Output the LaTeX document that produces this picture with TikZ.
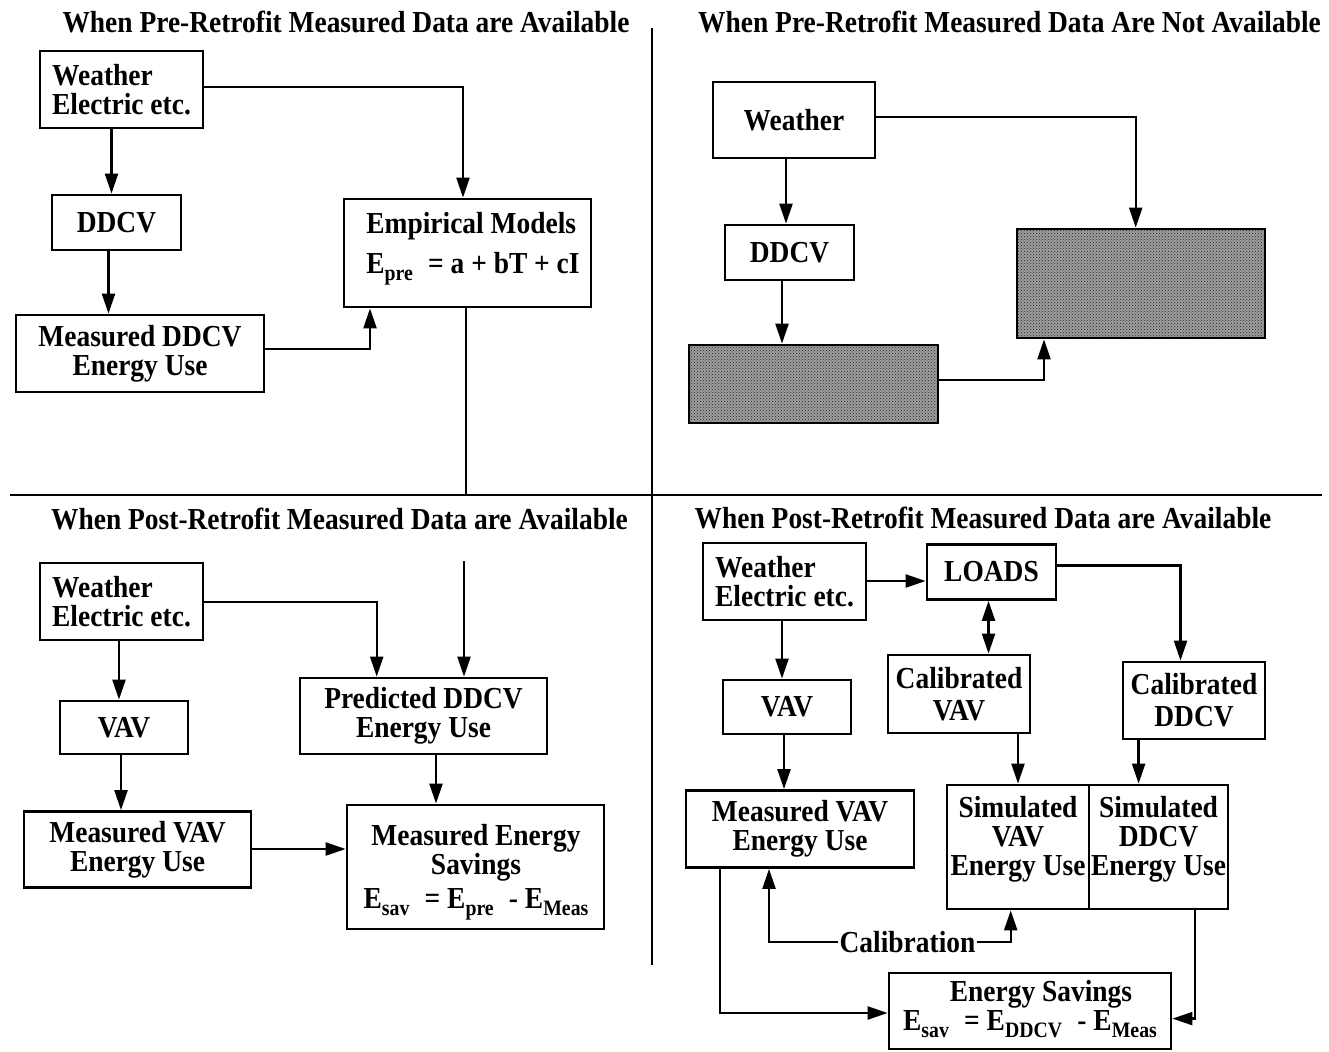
\documentclass[tikz,border=0pt]{standalone}
\usepackage{fontspec}
\setmainfont{Liberation Serif}[FakeStretch=0.9]
\usepackage{tikz}
\usetikzlibrary{arrows.meta,patterns}
\newcommand{\lowsub}[1]{\raisebox{-7pt}{\fontsize{22}{22}\selectfont #1}}

\begin{document}
\begin{tikzpicture}[x=1pt,y=-1pt,
	every node/.style={font=\fontsize{30.5}{29}\selectfont\bfseries},
	blk/.style={draw,line width=2.8pt,align=center,inner sep=0pt},
	greybox/.style={blk,preaction={fill=black!38},pattern=crosshatch dots,pattern color=black!85},
	arr/.style={line width=2.3pt,-{Triangle[length=20pt,width=13pt]}},
	dbl/.style={line width=2.3pt,{Triangle[length=20pt,width=13pt]}-{Triangle[length=20pt,width=13pt]}},
	wire/.style={line width=2.3pt},
	divider/.style={line width=2.4pt}]
	\useasboundingbox (0,0) rectangle (1329,1051);
	
	\draw[divider] (10,495) -- (1322,495);
	\draw[divider] (652,28) -- (652,965);
	
	% pre-retrofit, measured
	\node (t1) at (346,22) {When Pre-Retrofit Measured Data are Available};
	\node[blk,align=left,minimum width=163,minimum height=77] (w1) at (121.5,89.5) {Weather\\Electric etc.};
	\node[blk,minimum width=129,minimum height=55] (ddcv1) at (116.5,222.5) {DDCV};
	\node[blk,minimum width=248,minimum height=77] (mddcv1) at (140,353.5) {Measured DDCV\\Energy Use};
	\node[blk,minimum width=247,minimum height=108] (emp) at (467.5,253) {};
	\node[align=left,inner sep=0pt] (emptxt) at (473,248.5) {Empirical Models\\[11pt]E\lowsub{pre}\enspace= a + bT + cI};
	\draw[arr] (111.5,0 |- w1.south) -- (111.5,0 |- ddcv1.north);
	\draw[arr] (108.5,0 |- ddcv1.south) -- (108.5,0 |- mddcv1.north);
	\draw[arr] (w1.east |- 0,87) -| (463,0 |- emp.north);
	\draw[arr] (mddcv1.east |- 0,349) -| (370,0 |- emp.south);
	\draw[wire] (466,0 |- emp.south) -- (466,495);
	
	% pre-retrofit, not measured
	\node (t2) at (1009.5,22) {When Pre-Retrofit Measured Data Are Not Available};
	\node[blk,minimum width=162,minimum height=76] (w2) at (794,120) {Weather};
	\node[blk,minimum width=129,minimum height=55] (ddcv2) at (789.5,252.5) {DDCV};
	\node[greybox,minimum width=249,minimum height=78] (sh1) at (813.5,384) {};
	\node[greybox,minimum width=248,minimum height=109] (sh2) at (1141,283.5) {};
	\draw[arr] (786,0 |- w2.south) -- (786,0 |- ddcv2.north);
	\draw[arr] (782,0 |- ddcv2.south) -- (782,0 |- sh1.north);
	\draw[arr] (w2.east |- 0,116.7) -| (1135.7,0 |- sh2.north);
	\draw[arr] (sh1.east |- 0,380) -| (1044,0 |- sh2.south);
	
	% post-retrofit, left
	\node (t3) at (339.5,519) {When Post-Retrofit Measured Data are Available};
	\node[blk,align=left,minimum width=163,minimum height=77] (w3) at (121.5,601.5) {Weather\\Electric etc.};
	\node[blk,minimum width=128,minimum height=53] (vav3) at (124,727.5) {VAV};
	\node[blk,minimum width=227,minimum height=76] (mvav3) at (137.5,849.5) {Measured VAV\\Energy Use};
	\node[blk,minimum width=247,minimum height=76] (pred) at (423.5,716) {Predicted DDCV\\Energy Use};
	\node[blk,minimum width=257,minimum height=124] (mes) at (475.5,867) {};
	\node[align=center,inner sep=0pt] (mestxt) at (476,872) {Measured Energy\\Savings\\[5pt]E\lowsub{sav}\enspace= E\lowsub{pre}\enspace- E\lowsub{Meas}};
	\coordinate (fromemp) at (464,561);
	\draw[arr] (w3.east |- 0,601.8) -| (376.7,0 |- pred.north);
	\draw[arr] (fromemp) -- (fromemp |- pred.north);
	\draw[arr] (119,0 |- w3.south) -- (119,0 |- vav3.north);
	\draw[arr] (121,0 |- vav3.south) -- (121,0 |- mvav3.north);
	\draw[arr] (436,0 |- pred.south) -- (436,0 |- mes.north);
	\draw[arr] (mvav3.east |- 0,849) -- (mes.west |- 0,849);
	
	% post-retrofit, right
	\node (t4) at (983,517.5) {When Post-Retrofit Measured Data are Available};
	\node[blk,align=left,minimum width=163,minimum height=77] (w4) at (784.5,581.5) {Weather\\Electric etc.};
	\node[blk,minimum width=129,minimum height=55] (loads) at (991.5,572) {LOADS};
	\node[blk,minimum width=128,minimum height=54] (vav4) at (787,707) {VAV};
	\node[blk,minimum width=228,minimum height=77] (mvav4) at (800,829) {Measured VAV\\Energy Use};
	\node[blk,minimum width=142,minimum height=78] (calvav) at (959,694) {Calibrated\\[3pt]VAV};
	\node[blk,minimum width=142,minimum height=77] (calddcv) at (1194,700.5) {Calibrated\\[3pt]DDCV};
	\node[blk,minimum width=142,minimum height=124] (simvav) at (1018,847) {};
	\node[blk,minimum width=139,minimum height=124] (simddcv) at (1158.5,847) {};
	\node[align=center,inner sep=0pt] (simvavtxt) at (1018,839) {Simulated\\VAV\\Energy Use};
	\node[align=center,inner sep=0pt] (simddcvtxt) at (1158.5,839) {Simulated\\DDCV\\Energy Use};
	\node[inner xsep=1pt,inner ysep=0pt] (calib) at (907.5,942) {Calibration};
	\node[blk,minimum width=282,minimum height=76] (es) at (1030,1011) {};
	\node[align=center,inner sep=0pt] (estxt) at (1030,1009) {\hspace*{22pt}Energy Savings\\E\lowsub{sav}\enspace= E\lowsub{DDCV}\enspace- E\lowsub{Meas}};
	\draw[arr] (w4.east |- 0,581) -- (loads.west |- 0,581);
	\draw[arr] (782,0 |- w4.south) -- (782,0 |- vav4.north);
	\draw[arr] (784,0 |- vav4.south) -- (784,0 |- mvav4.north);
	\draw[dbl] (988.5,0 |- loads.south) -- (988.5,0 |- calvav.north);
	\draw[arr] (loads.east |- 0,565.6) -| (1180.5,0 |- calddcv.north);
	\draw[arr] (1018,0 |- calvav.south) -- (1018,0 |- simvav.north);
	\draw[arr] (1138.6,0 |- calddcv.south) -- (1138.6,0 |- simddcv.north);
	\draw[arr] (calib.west) -| (769,0 |- mvav4.south);
	\draw[arr] (calib.east) -| (1010.7,0 |- simvav.south);
	\draw[arr] (720,0 |- mvav4.south) |- (es.west |- 0,1013);
	\draw[arr] (1195,0 |- simddcv.south) |- (es.east |- 0,1018.6);
\end{tikzpicture}
\end{document}
